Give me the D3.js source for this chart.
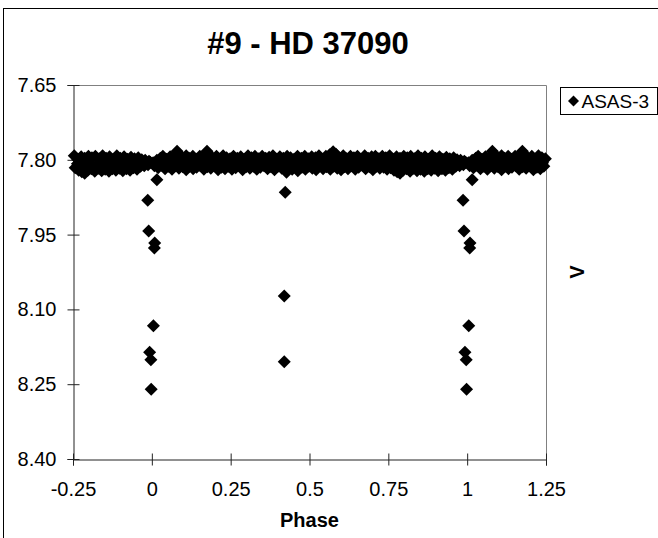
<!DOCTYPE html>
<html>
<head>
<meta charset="utf-8">
<script src="https://cdn.jsdelivr.net/npm/d3@7"></script>
<style>
  body { margin: 0; background: #fff; }
  svg { display: block; font-family: "Liberation Sans", Arial, sans-serif; }
</style>
</head>
<body>
<div id="chart"></div>
<script>
const width = 658;
const height = 538;
const margin = { top: 85, right: 112, bottom: 79, left: 73 };

const title = "#9 - HD 37090";
const seriesName = "ASAS-3";
const xTicks = [-0.25, 0, 0.25, 0.5, 0.75, 1, 1.25];
const yTicks = [7.65, 7.80, 7.95, 8.10, 8.25, 8.40];

// out of eclipse, upper edge of the band
const topPhase = [0.004, 0.016, 0.027, 0.035, 0.047, 0.058, 0.069, 0.080, 0.088, 0.097, 0.109, 0.118, 0.130, 0.141, 0.152, 0.163, 0.175, 0.184, 0.193, 0.205, 0.214, 0.226, 0.237, 0.248, 0.259, 0.271, 0.282, 0.293, 0.305, 0.316, 0.327, 0.339, 0.350, 0.361, 0.372, 0.384, 0.395, 0.406, 0.417, 0.429, 0.440, 0.451, 0.462, 0.474, 0.485, 0.496, 0.507, 0.519, 0.530, 0.541, 0.552, 0.564, 0.575, 0.584, 0.596, 0.607, 0.618, 0.630, 0.641, 0.652, 0.663, 0.675, 0.686, 0.697, 0.709, 0.720, 0.731, 0.742, 0.754, 0.765, 0.776, 0.787, 0.799, 0.810, 0.821, 0.833, 0.844, 0.855, 0.866, 0.878, 0.889, 0.900, 0.912, 0.923, 0.934, 0.945, 0.957, 0.968, 0.979, 0.991];
const topMag = [7.806, 7.801, 7.797, 7.793, 7.799, 7.794, 7.796, 7.783, 7.790, 7.798,
    7.792, 7.797, 7.793, 7.799, 7.793, 7.796, 7.783, 7.791, 7.797, 7.793,
    7.799, 7.792, 7.796, 7.798, 7.793, 7.797, 7.794, 7.799, 7.792, 7.796,
    7.793, 7.798, 7.793, 7.797, 7.795, 7.792, 7.799, 7.794, 7.797, 7.793,
    7.796, 7.799, 7.793, 7.797, 7.793, 7.798, 7.794, 7.796, 7.792, 7.799,
    7.793, 7.790, 7.784, 7.789, 7.797, 7.792, 7.798, 7.793, 7.796, 7.793,
    7.799, 7.792, 7.797, 7.794, 7.793, 7.798, 7.793, 7.796, 7.792, 7.799,
    7.794, 7.797, 7.793, 7.796, 7.793, 7.798, 7.792, 7.797, 7.794, 7.799,
    7.792, 7.797, 7.794, 7.799, 7.795, 7.798, 7.796, 7.800, 7.801, 7.803];

// middle of the band
const midPhase = [0.012, 0.031, 0.052, 0.071, 0.092, 0.113, 0.134, 0.155, 0.176, 0.197, 0.218, 0.239, 0.260, 0.281, 0.302, 0.323, 0.344, 0.365, 0.386, 0.407, 0.428, 0.449, 0.470, 0.491, 0.512, 0.533, 0.554, 0.575, 0.596, 0.617, 0.638, 0.659, 0.680, 0.701, 0.722, 0.743, 0.764, 0.785, 0.806, 0.827, 0.848, 0.869, 0.890, 0.911, 0.932, 0.953, 0.974, 0.995];
const midMag = [7.806, 7.805, 7.807, 7.804, 7.806, 7.805, 7.807, 7.804, 7.806, 7.805, 7.807, 7.806, 7.804, 7.806, 7.807, 7.805, 7.806, 7.804, 7.807, 7.805, 7.806, 7.808, 7.807, 7.805, 7.806, 7.804, 7.807, 7.805, 7.806, 7.804, 7.807, 7.805, 7.806, 7.804, 7.807, 7.805, 7.808, 7.810, 7.809, 7.810, 7.808, 7.810, 7.809, 7.810, 7.808, 7.807, 7.806, 7.805];

// lower edge of the band
const lowPhase = [0.008, 0.020, 0.031, 0.042, 0.053, 0.064, 0.075, 0.086, 0.098, 0.109, 0.120, 0.131, 0.142, 0.154, 0.165, 0.176, 0.187, 0.198, 0.210, 0.221, 0.232, 0.243, 0.254, 0.266, 0.277, 0.288, 0.299, 0.311, 0.322, 0.333, 0.344, 0.356, 0.367, 0.378, 0.389, 0.400, 0.412, 0.427, 0.434, 0.445, 0.463, 0.476, 0.487, 0.498, 0.509, 0.521, 0.532, 0.543, 0.554, 0.566, 0.577, 0.588, 0.600, 0.611, 0.622, 0.633, 0.645, 0.656, 0.667, 0.678, 0.690, 0.701, 0.712, 0.723, 0.735, 0.746, 0.757, 0.768, 0.778, 0.787, 0.797, 0.808, 0.819, 0.830, 0.841, 0.852, 0.864, 0.875, 0.886, 0.897, 0.908, 0.920, 0.931, 0.942, 0.953, 0.964, 0.976, 0.988];
const lowMag = [7.812, 7.816, 7.811, 7.818, 7.813, 7.819, 7.812, 7.817, 7.814, 7.820,
    7.813, 7.818, 7.815, 7.812, 7.819, 7.814, 7.817, 7.812, 7.820, 7.815,
    7.818, 7.813, 7.819, 7.816, 7.812, 7.820, 7.814, 7.817, 7.813, 7.819,
    7.815, 7.812, 7.818, 7.814, 7.820, 7.813, 7.817, 7.825, 7.814, 7.819,
    7.822, 7.815, 7.819, 7.813, 7.817, 7.820, 7.812, 7.818, 7.814, 7.819,
    7.813, 7.817, 7.820, 7.814, 7.818, 7.812, 7.819, 7.815, 7.811, 7.818,
    7.814, 7.820, 7.813, 7.817, 7.815, 7.819, 7.816, 7.821, 7.824, 7.827,
    7.821, 7.818, 7.823, 7.817, 7.822, 7.819, 7.823, 7.818, 7.821, 7.817,
    7.822, 7.818, 7.821, 7.816, 7.819, 7.813, 7.812, 7.810];

// primary and secondary eclipse points
const eclPhase = [0.016, 0.987, 0.990, 0.009, 0.008, 0.005, 0.993, 0.997, 0.998, 0.423, 0.420, 0.420];
const eclMag = [7.840, 7.881, 7.943, 7.967, 7.977, 8.133, 8.186, 8.201, 8.260, 7.865, 8.073, 8.205];

// phase-fold: show the cycle from -0.25 to 1.25
const obs = [];
[[topPhase, topMag], [midPhase, midMag], [lowPhase, lowMag], [eclPhase, eclMag]].forEach(([ph, mg]) => {
    ph.forEach((p, i) => {
        obs.push({ phase: p, mag: mg[i] });
        if (p >= 0.75) obs.push({ phase: p - 1, mag: mg[i] });
        if (p < 0.25) obs.push({ phase: p + 1, mag: mg[i] });
    });
});

const x = d3.scaleLinear().domain([-0.25, 1.25]).range([margin.left, width - margin.right]);
const y = d3.scaleLinear().domain([7.65, 8.40]).range([margin.top, height - margin.bottom]);

const svg = d3.select("#chart").append("svg")
    .attr("width", width)
    .attr("height", height);

svg.append("rect").attr("width", width).attr("height", height).attr("fill", "#fff");

// chart frame
svg.append("rect")
    .attr("x", 3.5).attr("y", 8.5)
    .attr("width", 700).attr("height", 600)
    .attr("fill", "none").attr("stroke", "#000");

// plot area border (top + right)
svg.append("path")
    .attr("d", `M${x(-0.25)},${y(7.65) + 0.5}H${x(1.25) + 0.5}V${y(8.40)}`)
    .attr("fill", "none").attr("stroke", "#808080");

const tickFont = "20px";

const yAxis = svg.append("g")
    .attr("transform", `translate(${x(-0.25) + 0.5},0)`)
    .call(d3.axisLeft(y).tickValues(yTicks).tickSize(6).tickPadding(11).tickFormat(d3.format(".2f")));
yAxis.selectAll(".tick line").attr("x1", 6);

const xAxis = svg.append("g")
    .attr("transform", `translate(0,${y(8.40) + 0.5})`)
    .call(d3.axisBottom(x).tickValues(xTicks).tickSize(6).tickPadding(16).tickFormat(d => String(d)));
xAxis.selectAll(".tick line").attr("y1", -6);

[yAxis, xAxis].forEach(g => {
    g.select(".domain").attr("stroke", "#222");
    g.selectAll(".tick line").attr("stroke", "#222");
    g.selectAll(".tick text")
        .attr("fill", "#000")
        .style("font-size", tickFont)
        .style("font-family", "Liberation Sans, Arial, sans-serif");
});

// points
svg.append("g")
    .selectAll("path")
    .data(obs)
    .join("path")
    .attr("transform", d => `translate(${x(d.phase)},${y(d.mag)})`)
    .attr("d", "M0,-6.5L6.5,0L0,6.5L-6.5,0Z")
    .attr("fill", "#000");

// title
svg.append("text")
    .attr("x", 308).attr("y", 54)
    .attr("text-anchor", "middle")
    .style("font-size", "31px").style("font-weight", "bold")
    .text(title);

// axis titles
svg.append("text")
    .attr("x", x(0.5)).attr("y", 527)
    .attr("text-anchor", "middle")
    .style("font-size", "20px").style("font-weight", "bold")
    .text("Phase");

svg.append("text")
    .attr("transform", "translate(584,272) rotate(-90)")
    .attr("text-anchor", "middle")
    .style("font-size", "20px").style("font-weight", "bold")
    .text("V");

// legend
const legend = svg.append("g").attr("transform", "translate(560.5,87.5)");
legend.append("rect")
    .attr("width", 97).attr("height", 27)
    .attr("fill", "#fff").attr("stroke", "#000");
legend.append("path")
    .attr("transform", "translate(13,13.5)")
    .attr("d", "M0,-5.5L5.5,0L0,5.5L-5.5,0Z")
    .attr("fill", "#000");
legend.append("text")
    .attr("x", 21).attr("y", 20.5)
    .style("font-size", "19px")
    .text(seriesName);
</script>
</body>
</html>
